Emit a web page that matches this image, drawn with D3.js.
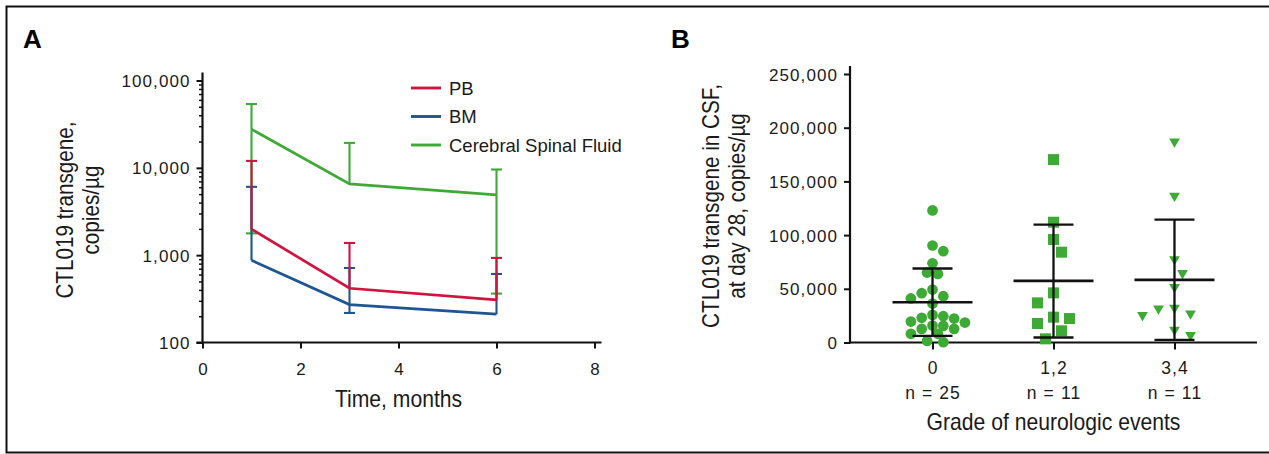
<!DOCTYPE html>
<html><head><meta charset="utf-8">
<script src="https://cdn.jsdelivr.net/npm/d3@7"></script>
<style>
body{margin:0;background:#fff;}
svg{display:block;}
text{font-family:"Liberation Sans",Arial,Helvetica,sans-serif;fill:#1a1a1a;}
</style></head>
<body>
<svg id="chart" width="1269" height="454"></svg>
<script>
// ---------- Panel A data ----------
const months = [1, 3, 6];
const seriesNames = ["PB", "BM", "Cerebral Spinal Fluid"];
const pbMean = [1990, 418, 307];
const pbUpper = [12000, 1380, 930];
const pbLower = [null, null, null];
const bmMean = [873, 272, 211];
const bmUpper = [6060, 713, 609];
const bmLower = [null, 218, null];
const csfMean = [27700, 6560, 4910];
const csfUpper = [53800, 19300, 9570];
const csfLower = [1778, null, 363];
const xTicksA = [0, 2, 4, 6, 8];
const yTicksA = [100, 1000, 10000, 100000];

// ---------- Panel B data ----------
const grades = ["0", "1,2", "3,4"];
const gradeN = ["n = 25", "n = 11", "n = 11"];
const grade0 = [123000, 90300, 85000, 73800, 65100, 63900, 49300, 45900, 43100, 41000, 36300, 25700, 24500, 23000, 22300, 19500, 18600, 15800, 15500, 12700, 12700, 8100, 8100, 1500, 300];
const grade12 = [170300, 112000, 95900, 84100, 46200, 36900, 23600, 22300, 17700, 10900, 3400];
const grade34 = [187000, 136500, 77500, 64500, 51500, 32300, 31600, 27000, 25400, 11800, 6800];
const groupMean = [37500, 57400, 58300];
const groupSdUpper = [68900, 109800, 114500];
const groupSdLower = [6200, 4650, 2500];
const yTicksB = [0, 50000, 100000, 150000, 200000, 250000];

const svg = d3.select("#chart");
const fmt = d3.format(",");
const colors = {red: "#d0143f", blue: "#1f5590", green: "#3daa35"};

// frame
svg.append("path").attr("d", "M1269,6.5 H6.5 V452.5 H1269")
  .attr("fill", "none").attr("stroke", "#111").attr("stroke-width", 2);

// panel letters
svg.append("text").attr("x", 23).attr("y", 48).text("A")
  .style("font-weight", "bold").style("font-size", "26px").style("fill", "#000");
svg.append("text").attr("x", 671).attr("y", 48).text("B")
  .style("font-weight", "bold").style("font-size", "26px").style("fill", "#000");

const tickFont = "17px";
const ls = 1.1;

// ================= Panel A =================
const xA = d3.scaleLinear().domain([0, 8]).range([202.5, 594.5]);
const yA = d3.scaleLog().domain([100, 100000]).range([342.5, 80.5]);
const gA = svg.append("g");

// minor ticks
const minor = [];
for (let d = 100; d < 100000; d *= 10) for (let m = 2; m <= 9; m++) minor.push(d * m);
gA.append("g").attr("transform", `translate(${xA(0)},0)`)
  .call(d3.axisLeft(yA).tickValues(minor).tickSize(3.5).tickFormat(""))
  .call(g => g.select(".domain").remove())
  .call(g => g.selectAll("line").attr("stroke", "#111").attr("stroke-width", 1.5));
// major y
gA.append("g").attr("transform", `translate(${xA(0)},0)`)
  .call(d3.axisLeft(yA).tickValues(yTicksA).tickSize(6).tickFormat(fmt))
  .call(g => g.select(".domain").remove())
  .call(g => g.selectAll("line").attr("stroke", "#111").attr("stroke-width", 2))
  .call(g => g.selectAll("text").attr("x", -13 + ls).attr("dy", "0.36em")
    .style("font-size", tickFont).style("letter-spacing", ls + "px").style("font-family", "Liberation Sans, Arial"));
gA.append("line").attr("x1", xA(0)).attr("x2", xA(0)).attr("y1", yA(100000) - 8).attr("y2", yA(100) + 1)
  .attr("stroke", "#111").attr("stroke-width", 2.2);
// x axis
gA.append("g").attr("transform", `translate(0,${yA(100)})`)
  .call(d3.axisBottom(xA).tickValues(xTicksA).tickSize(6).tickFormat(d3.format("d")))
  .call(g => g.select(".domain").remove())
  .call(g => g.selectAll("line").attr("stroke", "#111").attr("stroke-width", 2))
  .call(g => g.selectAll("text").attr("y", 32.5).attr("dy", 0).attr("dx", ls / 2)
    .style("font-size", tickFont).style("letter-spacing", ls + "px").style("font-family", "Liberation Sans, Arial"));
gA.append("line").attr("x1", xA(0) - 6).attr("x2", xA(8) + 7).attr("y1", yA(100)).attr("y2", yA(100))
  .attr("stroke", "#111").attr("stroke-width", 2.2);

// series
const seriesA = [
  {name: seriesNames[2], mean: csfMean, up: csfUpper, lo: csfLower, color: colors.green},
  {name: seriesNames[1], mean: bmMean, up: bmUpper, lo: bmLower, color: colors.blue},
  {name: seriesNames[0], mean: pbMean, up: pbUpper, lo: pbLower, color: colors.red}
];
const lineA = d3.line().x((d, i) => xA(months[i])).y(d => yA(d));
seriesA.forEach(s => {
  const g = gA.append("g");
  months.forEach((m, i) => {
    const x = xA(m);
    [s.up[i], s.lo[i]].forEach(v => {
      if (v == null) return;
      g.append("line").attr("x1", x).attr("x2", x).attr("y1", yA(s.mean[i])).attr("y2", yA(v))
        .attr("stroke", s.color).attr("stroke-width", 2.1);
      g.append("line").attr("x1", x - 5.5).attr("x2", x + 5.5).attr("y1", yA(v)).attr("y2", yA(v))
        .attr("stroke", s.color).attr("stroke-width", 2.1);
    });
  });
  g.append("path").attr("d", lineA(s.mean)).attr("fill", "none")
    .attr("stroke", s.color).attr("stroke-width", 2.7);
});

// legend
const legendItems = [
  {name: seriesNames[0], color: colors.red},
  {name: seriesNames[1], color: colors.blue},
  {name: seriesNames[2], color: colors.green}
];
legendItems.forEach((d, i) => {
  const y = 88 + i * 28.5;
  gA.append("line").attr("x1", 411).attr("x2", 441).attr("y1", y).attr("y2", y)
    .attr("stroke", d.color).attr("stroke-width", 2.9);
  gA.append("text").attr("x", 449).attr("y", y + 6.6).text(d.name).style("font-size", "18.5px");
});

// axis titles A
const condensed = 0.9;
gA.append("text").attr("transform", `translate(${xA(4)},407) scale(${condensed},1)`)
  .attr("text-anchor", "middle").text("Time, months").style("font-size", "23.5px");
gA.append("text").attr("transform", `translate(73,210) rotate(-90) scale(${condensed},1)`)
  .attr("text-anchor", "middle").text("CTL019 transgene,").style("font-size", "23px");
gA.append("text").attr("transform", `translate(99,210) rotate(-90) scale(${condensed},1)`)
  .attr("text-anchor", "middle").text("copies/\u00b5g").style("font-size", "23px");

// ================= Panel B =================
const xB = d3.scalePoint().domain(grades).range([850, 1257]).padding(0.682);
const yB = d3.scaleLinear().domain([0, 250000]).range([342.5, 74]);
const gB = svg.append("g");

gB.append("g").attr("transform", "translate(850,0)")
  .call(d3.axisLeft(yB).tickValues(yTicksB).tickSize(6).tickFormat(fmt))
  .call(g => g.select(".domain").remove())
  .call(g => g.selectAll("line").attr("stroke", "#111").attr("stroke-width", 2))
  .call(g => g.selectAll("text").attr("x", -13 + ls).attr("dy", "0.36em")
    .style("font-size", tickFont).style("letter-spacing", ls + "px").style("font-family", "Liberation Sans, Arial"));
gB.append("line").attr("x1", 850).attr("x2", 850).attr("y1", yB(250000) - 8).attr("y2", yB(0) + 1)
  .attr("stroke", "#111").attr("stroke-width", 2.2);
gB.append("g").attr("transform", `translate(0,${yB(0)})`)
  .call(d3.axisBottom(xB).tickSize(7).tickFormat(""))
  .call(g => g.select(".domain").remove())
  .call(g => g.selectAll("line").attr("stroke", "#111").attr("stroke-width", 2));
gB.append("line").attr("x1", 849).attr("x2", 1257).attr("y1", yB(0)).attr("y2", yB(0))
  .attr("stroke", "#111").attr("stroke-width", 2.2);

grades.forEach((g, i) => {
  gB.append("text").attr("x", xB(g) + ls / 2).attr("y", 374).attr("text-anchor", "middle").text(g)
    .style("font-size", "17.5px").style("letter-spacing", ls + "px");
  gB.append("text").attr("x", xB(g) + ls / 2).attr("y", 399).attr("text-anchor", "middle").text(gradeN[i])
    .style("font-size", "17.5px").style("letter-spacing", ls + "px");
});

// beeswarm placement (layout only: spreads points horizontally when they collide)
function swarm(values, step, minD) {
  const pts = values.map(v => ({v, py: yB(v)})).sort((a, b) => b.v - a.v);
  const placed = [];
  let side = 1;
  pts.forEach(p => {
    for (let k = 0; k < 60; k++) {
      const cands = k === 0 ? [0] : [side * k, -side * k];
      let ok = null;
      for (const c of cands) {
        const ox = c * step;
        if (placed.every(q => Math.hypot(q.ox - ox, q.py - p.py) >= minD)) { ok = ox; break; }
      }
      if (ok !== null) { p.ox = ok; if (ok !== 0) side = ok > 0 ? -1 : 1; break; }
    }
    placed.push(p);
  });
  return placed;
}

const groupsB = [
  {vals: grade0, sym: d3.symbolCircle, size: 90, step: 5.4, minD: 9.5, rot: 0},
  {vals: grade12, sym: d3.symbolSquare, size: 121, step: 8, minD: 14, rot: 0},
  {vals: grade34, sym: d3.symbolTriangle, size: 50, step: 8, minD: 14, rot: 180}
];
groupsB.forEach((G, gi) => {
  const cx = xB(grades[gi]);
  const pts = swarm(G.vals, G.step, G.minD);
  const sym = d3.symbol().type(G.sym).size(G.size);
  gB.append("g").selectAll("path").data(pts).join("path")
    .attr("d", sym)
    .attr("transform", d => `translate(${cx + d.ox},${d.py}) rotate(${G.rot})`)
    .attr("fill", colors.green);
});
// mean and SD
grades.forEach((g, i) => {
  const cx = xB(g);
  gB.append("line").attr("x1", cx).attr("x2", cx).attr("y1", yB(groupSdUpper[i])).attr("y2", yB(groupSdLower[i]))
    .attr("stroke", "#111").attr("stroke-width", 2.3);
  [groupSdUpper[i], groupSdLower[i]].forEach(v => {
    gB.append("line").attr("x1", cx - 20).attr("x2", cx + 20).attr("y1", yB(v)).attr("y2", yB(v))
      .attr("stroke", "#111").attr("stroke-width", 2.3);
  });
  gB.append("line").attr("x1", cx - 40).attr("x2", cx + 40).attr("y1", yB(groupMean[i])).attr("y2", yB(groupMean[i]))
    .attr("stroke", "#111").attr("stroke-width", 2.6);
});

// titles B
gB.append("text").attr("transform", `translate(${(850 + 1257) / 2},430) scale(0.92,1)`)
  .attr("text-anchor", "middle").text("Grade of neurologic events").style("font-size", "23px");
gB.append("text").attr("transform", `translate(719,206) rotate(-90) scale(${condensed},1)`)
  .attr("text-anchor", "middle").text("CTL019 transgene in CSF,").style("font-size", "23px");
gB.append("text").attr("transform", `translate(745,206) rotate(-90) scale(${condensed},1)`)
  .attr("text-anchor", "middle").text("at day 28, copies/\u00b5g").style("font-size", "23px");
</script>
</body></html>
